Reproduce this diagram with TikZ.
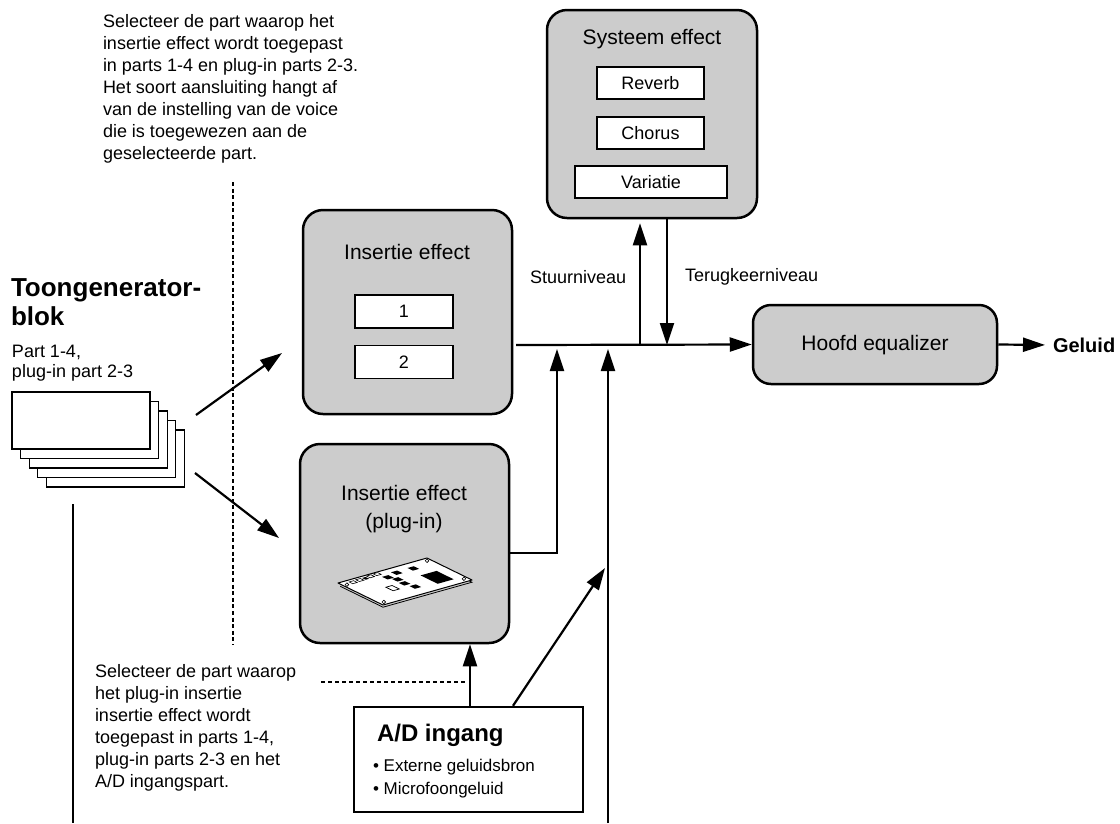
\documentclass[tikz,border=0pt]{standalone}
\usepackage{fontspec}
\setmainfont{Liberation Sans}
\usetikzlibrary{arrows.meta,calc}
\definecolor{boxgray}{HTML}{CCCCCC}
\newcommand{\fsz}[2]{\fontsize{#1pt}{#2pt}\selectfont}

\begin{document}
\begin{tikzpicture}[x=1pt,y=-1pt,
  bigbox/.style={draw, line width=2.5pt, fill=boxgray, rounded corners=20pt, inner sep=0pt},
  innerbox/.style={draw, line width=1.3pt, fill=white, inner sep=0pt, font=\fsz{18}{22}},
  sheet/.style={draw, line width=1.3pt, fill=white, inner sep=0pt, minimum width=138pt, minimum height=57pt},
  conn/.style={line width=2.2pt},
  tip/.style={-{Triangle[length=22pt,width=14pt]}},
  plain/.style={inner sep=0pt, outer sep=0pt, align=left},
  title/.style={inner sep=0pt, font=\fsz{21}{28}, align=center},
  note/.style={plain, font=\fsz{18}{22}},
]
\useasboundingbox (0,0) rectangle (1120,823);

% ---------- tone generator block ----------
\node[plain, anchor=base west, font=\bfseries\fsz{26}{29}] (tg1) at (11,296) {Toongenerator-};
\node[plain, anchor=base west, font=\bfseries\fsz{26}{29}] (tg2) at (11,325) {blok};
\node[plain, anchor=base west, font=\fsz{18}{20}] (pt1) at (12,357) {Part 1-4,};
\node[plain, anchor=base west, font=\fsz{18}{20}] (pt2) at (12,377) {plug-in part 2-3};

\foreach \k in {4,3,2,1,0}{
  \node[sheet] (page\k) at ({81+8.6*\k},{420.5+9.5*\k}) {};
}

% ---------- notes ----------
\node[note, anchor=north west] (noteA) at (103,14)
  {Selecteer de part waarop het\\insertie effect wordt toegepast\\in parts 1-4 en plug-in parts 2-3.\\Het soort aansluiting hangt af\\van de instelling van de voice\\die is toegewezen aan de\\geselecteerde part.};
\node[note, anchor=north west] (noteB) at (95,664)
  {Selecteer de part waarop\\het plug-in insertie\\insertie effect wordt\\toegepast in parts 1-4,\\plug-in parts 2-3 en het\\A/D ingangspart.};

\coordinate (dotTop) at (233,182);
\coordinate (dotBot) at (233,645);
\draw[line width=2.6pt, dash pattern=on 4pt off 2.6pt] (dotTop) -- (dotBot);

% ---------- insertion effect ----------
\node[bigbox, minimum width=209pt, minimum height=204pt] (ins) at (407.5,312) {};
\node[title] (insT) at (407,252) {Insertie effect};
\node[innerbox, minimum width=98pt, minimum height=33pt] (ins1) at (404,311.5) {1};
\node[innerbox, minimum width=98pt, minimum height=33pt] (ins2) at (404,362) {2};

% ---------- insertion effect (plug-in) ----------
\node[bigbox, minimum width=209pt, minimum height=199pt] (plug) at (404.5,543.5) {};
\node[title] (plugT) at (404,509) {Insertie effect\\(plug-in)};

% plug-in board
\begin{scope}[shift={(338,583)}, x={(89pt,25pt)}, y={(45pt,-22pt)}]
  \draw[line width=0.8pt] ([yshift=-2.2pt]0,0.05) -- ([yshift=-2.2pt]0,1) -- ([yshift=-2.2pt]1,1) -- ([yshift=-2.2pt]1,0.05);
  \draw[line width=1pt, fill=white, line join=round] (0,0) -- (1,0) -- (1,1) -- (0,1) -- cycle;
  \foreach \p in {(0.04,0.12),(0.96,0.08),(0.96,0.9),(0.05,0.92)}
    \draw[line width=0.6pt, fill=white] \p circle (1.8pt);
  \fill (0.70,0.45) -- (0.88,0.45) -- (0.88,0.83) -- (0.70,0.83) -- cycle;
  \foreach \s/\t in {0.75/0.19,0.44/0.24,0.48/0.38,0.47/0.55,0.50/0.73,0.57/0.18}
    \fill ({\s-0.035},{\t-0.06}) -- ({\s+0.035},{\t-0.06}) -- ({\s+0.035},{\t+0.06}) -- ({\s-0.035},{\t+0.06}) -- cycle;
  \draw[line width=0.7pt, fill=white] (0.28,0.51) -- (0.35,0.51) -- (0.35,0.67) -- (0.28,0.67) -- cycle;
  \foreach \s/\t in {0.20/0.09,0.33/0.07,0.41/0.06,0.12/0.10}
    \draw[line width=0.6pt, fill=white] ({\s-0.025},{\t-0.04}) -- ({\s+0.025},{\t-0.04}) -- ({\s+0.025},{\t+0.04}) -- ({\s-0.025},{\t+0.04}) -- cycle;
  \fill (0.245,0.05) -- (0.285,0.05) -- (0.285,0.13) -- (0.245,0.13) -- cycle;
\end{scope}

% ---------- system effect ----------
\node[bigbox, minimum width=210pt, minimum height=208pt] (sys) at (652,114) {};
\node[title] (sysT) at (652,39) {Systeem effect};
\node[innerbox, minimum width=107pt, minimum height=32pt] (rev) at (650.5,83) {Reverb};
\node[innerbox, minimum width=107pt, minimum height=32pt] (cho) at (650.5,133) {Chorus};
\node[innerbox, minimum width=152pt, minimum height=32pt] (var) at (651,182) {Variatie};

% ---------- master equalizer ----------
\node[bigbox, rounded corners=18pt, minimum width=244pt, minimum height=79pt] (eq) at (875,344.5) {};
\node[title] (eqT) at (875,345) {Hoofd equalizer};
\node[plain, anchor=west, font=\bfseries\fsz{20}{24}] (out) at (1053,345) {Geluid};

% ---------- A/D input ----------
\node[draw, line width=2.5pt, fill=white, minimum width=229pt, minimum height=105pt, inner sep=0pt] (ad) at (468.5,759.5) {};
\node[plain, anchor=west, font=\bfseries\fsz{24}{28}] (adT) at (377,735) {A/D ingang};
\node[plain, anchor=west, font=\fsz{17}{23}] (adL1) at (373,767) {\textbullet\ Externe geluidsbron};
\node[plain, anchor=west, font=\fsz{17}{23}] (adL2) at (373,790) {\textbullet\ Microfoongeluid};

% ---------- signal lines ----------
\coordinate (busL) at (516,345);
\coordinate (sendJ) at (640,345);
\coordinate (retJ) at (667,345);
\coordinate (plugJ) at (557,345);
\coordinate (adJ) at (608,345);
\coordinate (adBot) at (608,823);
\coordinate (tgBot) at (73,823);
\coordinate (tgTop) at (73,504);
\coordinate (upS) at (196,415);
\coordinate (upE) at (282,353);
\coordinate (loS) at (195,473);
\coordinate (loE) at (279,538);
\coordinate (adDiag) at (605,568);

\draw[conn,tip] (upS) -- (upE);
\draw[conn,tip] (loS) -- (loE);

\draw[conn,tip] (busL) -- (eq.west);
\draw[conn,tip, shorten >=8pt] (eq.east) -- (out.west);
\draw[conn,tip, shorten >=4pt] (sendJ) -- (sendJ |- sys.south);
\draw[conn,tip] (retJ |- sys.south) -- (retJ);
\node[plain, anchor=west, font=\fsz{18}{22}] (stuur) at (530,277) {Stuurniveau};
\node[plain, anchor=west, font=\fsz{18}{22}] (terug) at (685,277) {Terugkeerniveau};

\draw[conn,tip, shorten >=4pt] (plug.east |- 0,553) -| (plugJ);
\draw[conn,tip, shorten >=4pt] (adBot) -- (adJ);
\draw[conn] (tgTop) -- (tgBot);

\draw[conn,tip] (ad.north -| 470,0) -- (plug.south -| 470,0);
\draw[conn,tip] (ad.north -| 513,0) -- (adDiag);
\draw[line width=1.8pt, dash pattern=on 4pt off 3pt] (321,682) -- (465,682);

\end{tikzpicture}
\end{document}
